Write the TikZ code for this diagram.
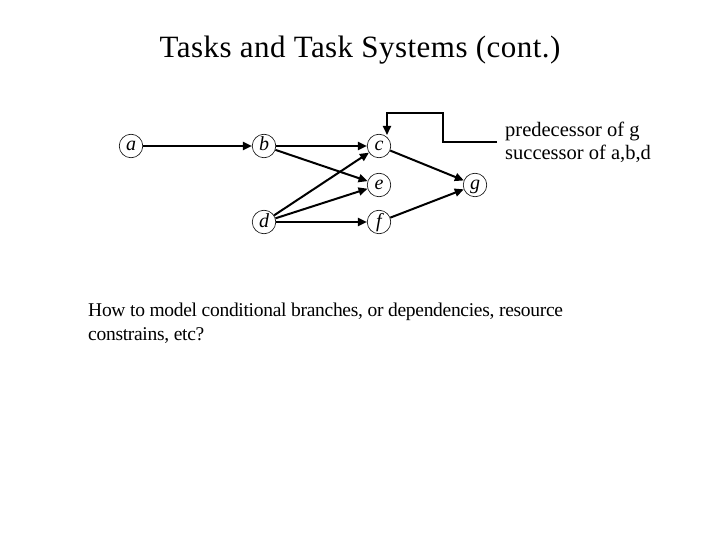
\documentclass[tikz,border=0pt]{standalone}
\usepackage{fontspec}
\setmainfont{Liberation Serif}
\usetikzlibrary{arrows.meta,calc}
\begin{document}
\begin{tikzpicture}[x=1pt,y=-1pt,
  task/.style={circle,draw,line width=0.6pt,minimum size=23.5pt,inner sep=0pt,text height=10pt,text depth=0pt,font=\fontsize{20}{20}\selectfont\itshape},
  dep/.style={line width=2pt,-{Triangle[length=9pt,width=8pt]}},
  callout/.style={line width=2pt}]
\useasboundingbox (0,0) rectangle (720,540);
\node[anchor=base,inner sep=0pt,font=\fontsize{31}{34}\selectfont\addfontfeature{LetterSpace=1.5}] (title) at (360,58) {Tasks and Task Systems (cont.)};
\node[task] (a) at (131,146) {a};
\node[task] (b) at (264,146) {b};
\node[task] (c) at (379,146) {c};
\node[task] (e) at (379,185) {e};
\node[task] (d) at (264,222) {d};
\node[task] (f) at (379,222) {f};
\node[task] (g) at (475,185) {g};
\draw[dep] (a) -- (b);
\draw[dep] (b) -- (c);
\draw[dep] (b) -- (e);
\draw[dep] (d) -- (c);
\draw[dep] (d) -- (e);
\draw[dep] (d) -- (f);
\draw[dep] (c) -- (g);
\draw[dep] (f) -- (g);
\node[anchor=base west,align=left,inner sep=0pt,font=\fontsize{20.5}{23}\selectfont] (lbl) at (505,160) {predecessor of g\\successor of a,b,d};
\coordinate (cs) at (497,142);
\draw[callout,-{Triangle[length=9pt,width=8pt]}] (cs) -- (443,142) -- (443,113) -- (387,113) -- (387,135);
\node[anchor=base west,align=left,inner sep=0pt,font=\fontsize{19.5}{23.5}\selectfont\addfontfeature{LetterSpace=-1.5}] (q) at (88,340) {How to model conditional branches, or dependencies, resource\\constrains, etc?};
\end{tikzpicture}
\end{document}
